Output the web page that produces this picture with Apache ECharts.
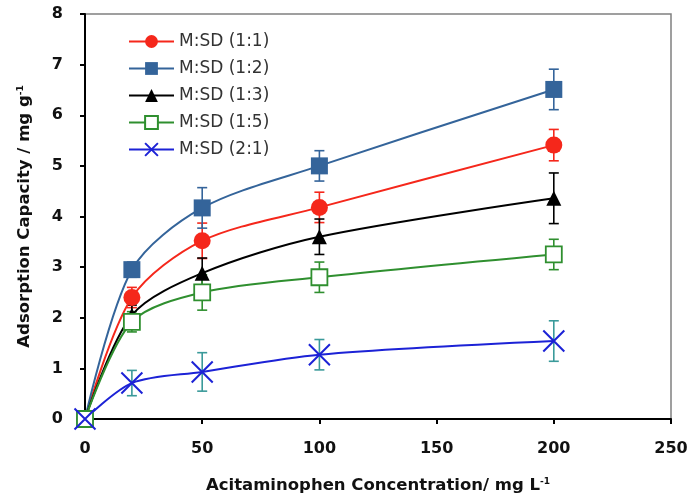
<!DOCTYPE html>
<html><head><meta charset="utf-8">
<script src="https://cdn.jsdelivr.net/npm/echarts@6/dist/echarts.min.js"></script>
<style>html,body{margin:0;padding:0;background:#fff}#c{width:700px;height:503px}</style>
</head><body><div id="c"></div>
<script>
var concentrations = [0, 20, 50, 100, 200];
var seriesNames = ['M:SD (1:1)', 'M:SD (1:2)', 'M:SD (1:3)', 'M:SD (1:5)', 'M:SD (2:1)'];
var v11 = [0, 2.4, 3.52, 4.18, 5.41];
var v12 = [0, 2.95, 4.17, 5.0, 6.51];
var v13 = [0, 2.05, 2.88, 3.6, 4.36];
var v15 = [0, 1.92, 2.5, 2.8, 3.25];
var v21 = [0, 0.71, 0.93, 1.27, 1.54];
var e11 = [0, 0.2, 0.35, 0.3, 0.31];
var e12 = [0, 0.15, 0.4, 0.3, 0.4];
var e13 = [0, 0.2, 0.3, 0.35, 0.5];
var e15 = [0, 0.2, 0.35, 0.3, 0.3];
var e21 = [0, 0.25, 0.38, 0.3, 0.4];
var xTicks = [0, 50, 100, 150, 200, 250];
var yTicks = [0, 1, 2, 3, 4, 5, 6, 7, 8];

var colors = ['#f5271b', '#34649a', '#000000', '#2f8f2f', '#1c22d6'];
var errColors = ['#f5271b', '#34649a', '#000000', '#2f8f2f', '#3a9a9a'];
var values = [v11, v12, v13, v15, v21];
var errs = [e11, e12, e13, e15, e21];
var symbols = ['circle', 'rect', 'triangle', 'rect', 'path://M0,0L10,10M10,0L0,10'];
var symSizes = [17, 17, 15, 16, 21];
var FONT = '"DejaVu Sans"';

var series = [];
values.forEach(function (vals, k) {
  series.push({
    type: 'custom',
    name: seriesNames[k] + ' err',
    z: 2,
    renderItem: function (params, api) {
      var x = api.value(0), y = api.value(1), e = api.value(2);
      if (!e) return null;
      var top = api.coord([x, y + e]);
      var bot = api.coord([x, y - e]);
      var w = 5;
      var st = { stroke: errColors[k], lineWidth: 1.6 };
      return { type: 'group', children: [
        { type: 'line', shape: { x1: top[0], y1: top[1], x2: bot[0], y2: bot[1] }, style: st },
        { type: 'line', shape: { x1: top[0] - w, y1: top[1], x2: top[0] + w, y2: top[1] }, style: st },
        { type: 'line', shape: { x1: bot[0] - w, y1: bot[1], x2: bot[0] + w, y2: bot[1] }, style: st }
      ]};
    },
    data: concentrations.map(function (c, i) { return [c, vals[i], errs[k][i]]; })
  });
});
values.forEach(function (vals, k) {
  var isX = k === 4, isOpen = k === 3;
  series.push({
    type: 'line',
    name: seriesNames[k],
    z: 3,
    smooth: 0.3,
    symbol: symbols[k],
    symbolSize: symSizes[k],
    lineStyle: { color: colors[k], width: 2 },
    itemStyle: isX ? { color: 'rgba(0,0,0,0)', borderColor: colors[k], borderWidth: 2 }
      : isOpen ? { color: '#ffffff', borderColor: colors[k], borderWidth: 1.8 }
      : { color: colors[k], borderWidth: 0 },
    data: concentrations.map(function (c, i) { return [c, vals[i]]; })
  });
});

var chart = echarts.init(document.getElementById('c'));
chart.setOption({
  animation: false,
  backgroundColor: '#fff',
  grid: { left: 85, right: 29, top: 14, bottom: 84, show: true, borderColor: '#808080', borderWidth: 1.5, backgroundColor: 'transparent' },
  legend: {
    data: seriesNames,
    orient: 'vertical', left: 123, top: 28, itemGap: 10, itemWidth: 45, itemHeight: 16,
    textStyle: { fontFamily: FONT, fontSize: 17, color: '#333' }
  },
  xAxis: {
    type: 'value', min: 0, max: 250, interval: 50,
    axisLine: { lineStyle: { color: '#000', width: 2 } },
    axisTick: { inside: false, length: 5, lineStyle: { color: '#000', width: 2 } },
    splitLine: { show: false },
    axisLabel: { margin: 22, fontFamily: FONT, fontWeight: 'bold', fontSize: 16, color: '#111',
      formatter: function (v) { return xTicks.indexOf(v) >= 0 ? String(v) : ''; } },
    name: '{a|Acitaminophen Concentration/ mg L}{b|-1}',
    nameLocation: 'middle', nameGap: 58,
    nameTextStyle: { rich: {
      a: { fontFamily: FONT, fontWeight: 'bold', fontSize: 16.5, color: '#111' },
      b: { fontFamily: FONT, fontWeight: 'bold', fontSize: 9, color: '#111', verticalAlign: 'top', padding: [0, 0, 9, 0] }
    } }
  },
  yAxis: {
    type: 'value', min: 0, max: 8, interval: 1,
    axisLine: { show: true, lineStyle: { color: '#000', width: 2 } },
    axisTick: { show: true, inside: false, length: 5, lineStyle: { color: '#000', width: 2 } },
    splitLine: { show: false },
    axisLabel: { margin: 22, fontFamily: FONT, fontWeight: 'bold', fontSize: 16, color: '#111',
      formatter: function (v) { return yTicks.indexOf(v) >= 0 ? String(v) : ''; } },
    name: '{a|Adsorption Capacity / mg g}{b|-1}',
    nameLocation: 'middle', nameGap: 51, nameRotate: 90,
    nameTextStyle: { rich: {
      a: { fontFamily: FONT, fontWeight: 'bold', fontSize: 16.5, color: '#111' },
      b: { fontFamily: FONT, fontWeight: 'bold', fontSize: 9, color: '#111', verticalAlign: 'top', padding: [0, 0, 9, 0] }
    } }
  },
  series: series
});
</script></body></html>
